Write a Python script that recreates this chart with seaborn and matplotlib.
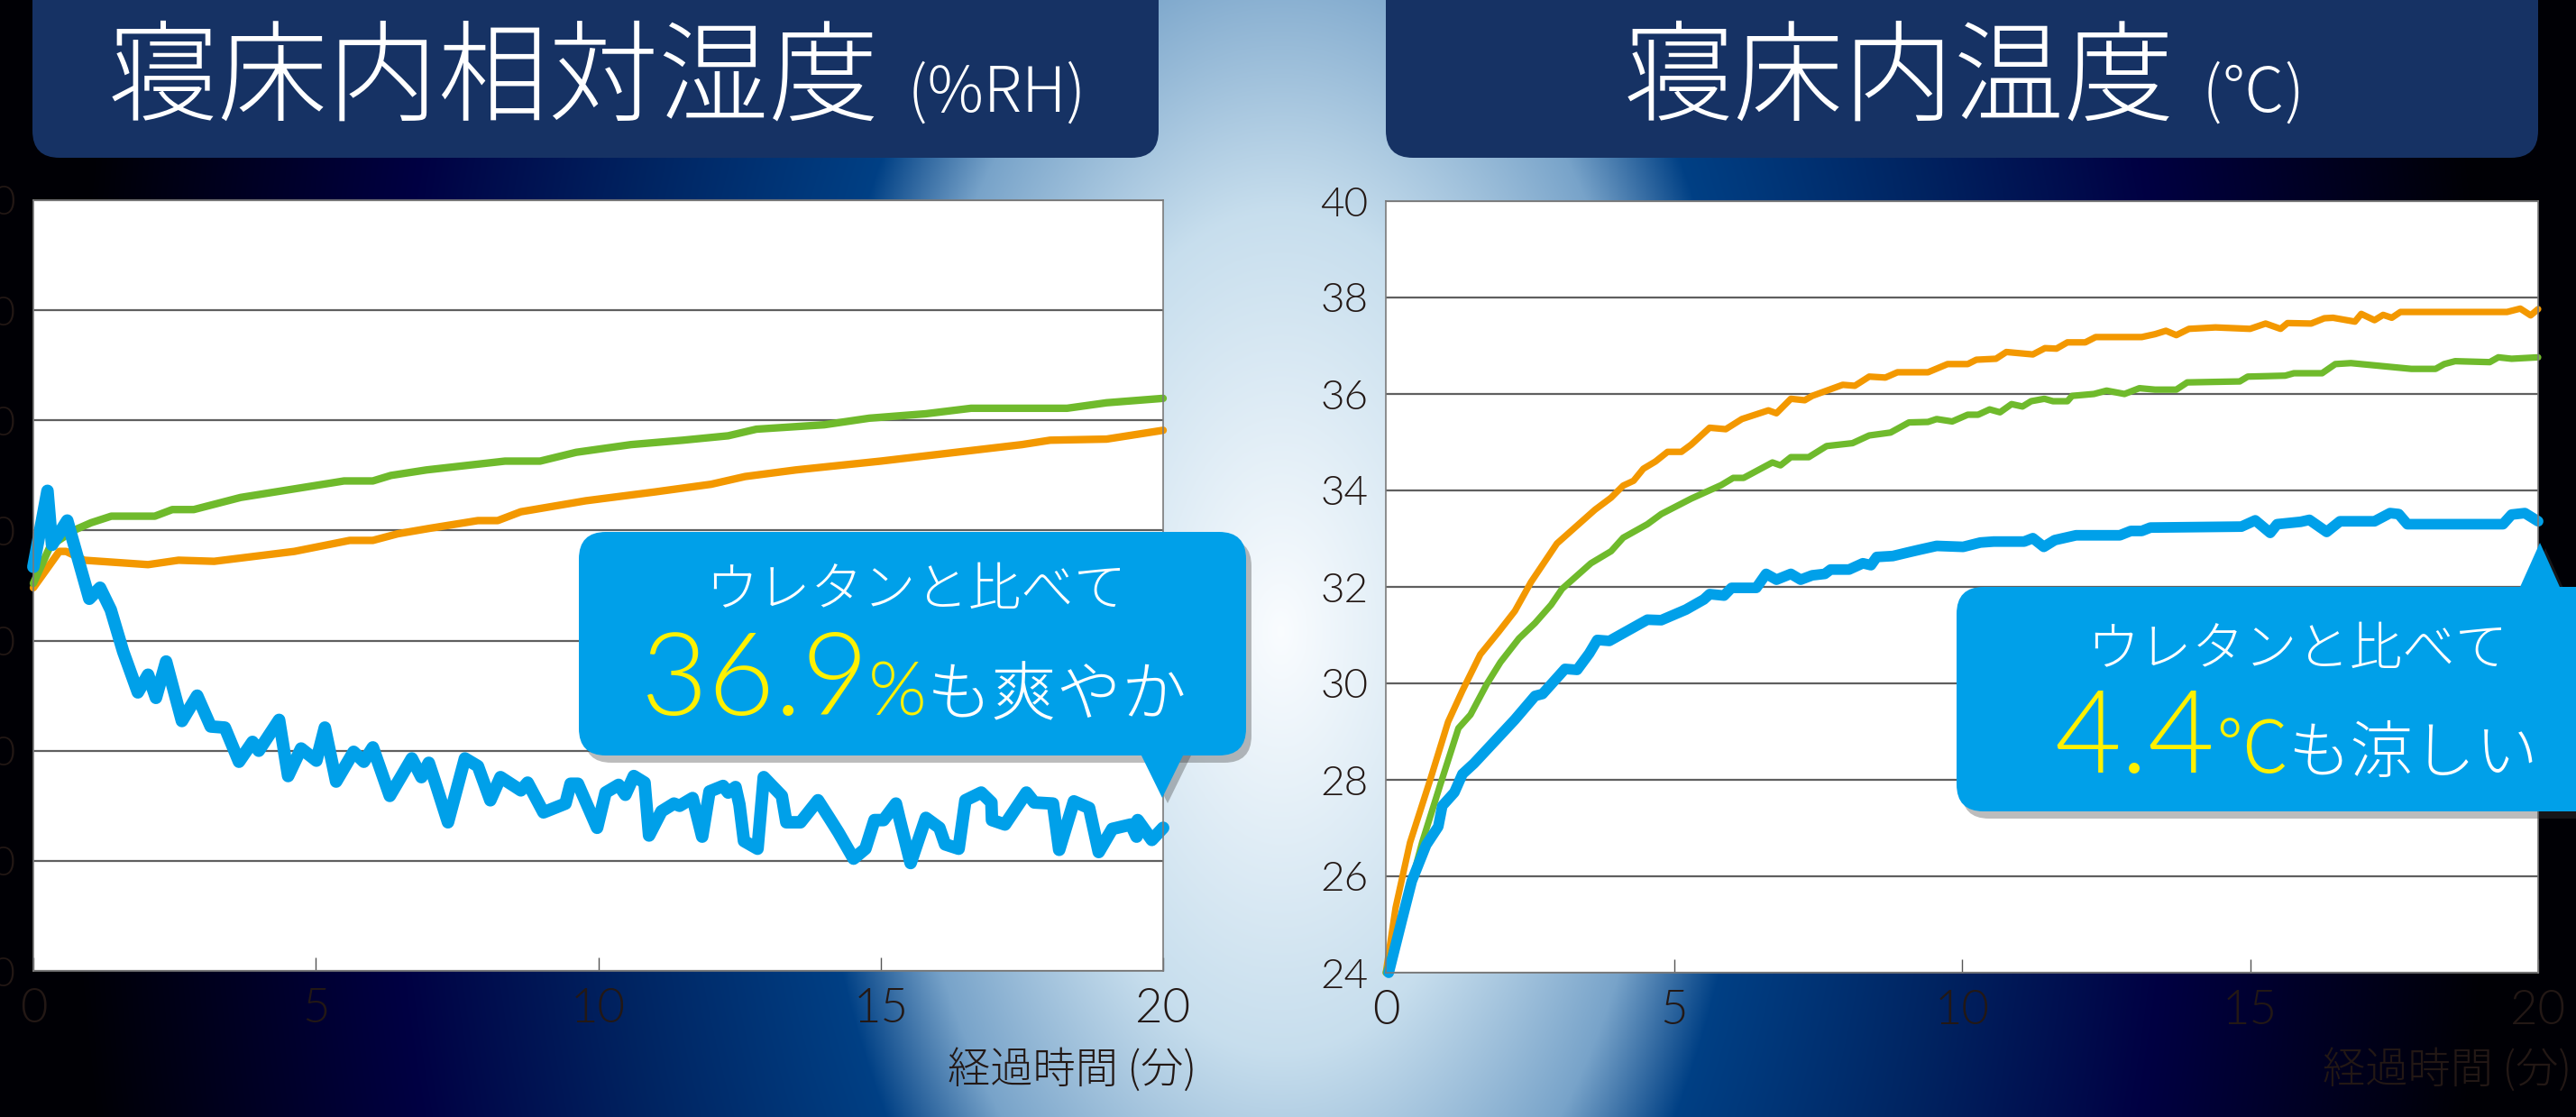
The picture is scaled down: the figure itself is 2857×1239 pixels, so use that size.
import numpy as np
import matplotlib
matplotlib.use("Agg")
import matplotlib.pyplot as plt
from matplotlib.patches import FancyBboxPatch, Polygon
import seaborn as sns

# ---- data: relative humidity in bed (%RH) vs elapsed minutes ----
rh_blue_t = [0.0, 0.25, 0.33, 0.6, 0.99, 1.18, 1.37, 1.59, 1.85, 2.03, 2.17, 2.35, 2.63, 2.9,
             3.14, 3.39, 3.64, 3.88, 3.99, 4.35, 4.51, 4.74, 5.01, 5.16, 5.36, 5.67, 5.85,
             6.01, 6.31, 6.7, 6.87, 7.0, 7.11, 7.34, 7.64, 7.87, 8.09, 8.27, 8.63, 8.75,
             9.03, 9.42, 9.51, 9.64, 9.98, 10.13, 10.36, 10.48, 10.63, 10.82, 10.9, 11.12,
             11.34, 11.44, 11.67, 11.84, 11.97, 12.21, 12.3, 12.43, 12.5, 12.58, 12.82,
             12.93, 13.25, 13.33, 13.58, 13.89, 14.09, 14.25, 14.52, 14.73, 14.89, 15.05,
             15.27, 15.33, 15.53, 15.8, 16.04, 16.14, 16.38, 16.5, 16.78, 16.96, 16.97,
             17.2, 17.58, 17.72, 18.05, 18.16, 18.42, 18.69, 18.86, 19.1, 19.43, 19.53,
             19.55, 19.8, 20.0]
rh_blue = [66.7, 73.6, 68.7, 70.9, 63.8, 64.8, 62.8, 59.0, 55.3, 56.9, 54.8, 58.1, 52.7, 55.0,
           52.2, 52.1, 49.0, 50.8, 50.0, 52.8, 47.7, 50.2, 49.1, 52.1, 47.2, 49.9, 49.0,
           50.3, 45.9, 49.3, 47.6, 48.9, 47.2, 43.5, 49.3, 48.6, 45.5, 47.6, 46.4, 47.1,
           44.4, 45.2, 47.0, 47.0, 43.0, 46.2, 46.9, 46.0, 47.7, 47.1, 42.3, 44.5,
           45.2, 45.0, 45.7, 42.2, 46.3, 46.8, 46.2, 46.7, 45.1, 41.8, 41.1,
           47.6, 45.9, 43.5, 43.5, 45.5, 43.9, 42.6, 40.2, 41.1, 43.7, 43.7,
           45.2, 43.9, 39.8, 43.9, 43.0, 41.5, 41.1, 45.5, 46.2, 45.3, 43.7,
           43.3, 46.2, 45.3, 45.2, 41.0, 45.4, 44.8, 40.8, 42.9, 43.3, 42.2,
           43.7, 41.9, 43.0]

rh_green_t = [0.0, 0.3, 0.71, 1.02, 1.38, 2.15, 2.46, 2.84, 3.67, 5.5, 6.01, 6.33, 6.96, 8.35,
              8.97, 9.61, 10.58, 11.5, 12.3, 12.8, 14.0, 14.8, 15.8, 16.6, 18.3, 19.0, 20.0]
rh_green = [65.2, 68.6, 70.0, 70.7, 71.3, 71.3, 71.9, 71.9, 73.0, 74.5, 74.5, 75.0, 75.5, 76.3,
            76.3, 77.1, 77.8, 78.2, 78.6, 79.2, 79.6, 80.2, 80.6, 81.1, 81.1, 81.6, 82.0]

rh_orange_t = [0.0, 0.46, 0.58, 0.9, 2.03, 2.57, 3.2, 4.62, 5.6, 6.01, 6.45, 7.02, 7.87, 8.22,
               8.63, 9.78, 11.0, 12.0, 12.6, 13.5, 15.0, 16.5, 17.5, 18.0, 19.0, 20.0]
rh_orange = [64.8, 68.1, 68.1, 67.3, 66.9, 67.3, 67.2, 68.1, 69.1, 69.1, 69.7, 70.2, 70.9, 70.9,
             71.7, 72.7, 73.5, 74.2, 74.9, 75.5, 76.3, 77.2, 77.8, 78.2, 78.3, 79.1]

# ---- data: temperature in bed (deg C) vs elapsed minutes ----
tp_orange_t = [0.0, 0.17, 0.42, 0.77, 1.08, 1.33, 1.64, 1.96, 2.24, 2.52, 2.97, 3.63, 3.91, 4.12,
               4.3, 4.47, 4.68, 4.89, 5.13, 5.3, 5.62, 5.9, 6.18, 6.64, 6.78, 7.03, 7.27, 7.4,
               7.93, 8.14, 8.39, 8.67, 8.88, 9.41, 9.75, 10.1, 10.25, 10.59, 10.77, 11.23,
               11.44, 11.64, 11.83, 12.14, 12.32, 13.12, 13.35, 13.54, 13.72, 13.94, 14.4,
               15.0, 15.27, 15.53, 15.65, 16.06, 16.29, 16.44, 16.82, 16.93, 17.16, 17.31,
               17.46, 17.61, 19.46, 19.69, 19.87, 20.0]
tp_orange = [24.0, 25.35, 26.7, 28.0, 29.2, 29.85, 30.6, 31.07, 31.5, 32.1, 32.9, 33.6, 33.85, 34.1,
             34.2, 34.45, 34.6, 34.8, 34.8, 34.95, 35.3, 35.27, 35.48, 35.66, 35.6, 35.9, 35.87, 35.96,
             36.19, 36.17, 36.36, 36.34, 36.45, 36.45, 36.62, 36.62, 36.71, 36.73, 36.87, 36.82,
             36.95, 36.94, 37.07, 37.07, 37.18, 37.18, 37.24, 37.31, 37.22, 37.35, 37.38,
             37.35, 37.46, 37.35, 37.47, 37.46, 37.57, 37.58, 37.5, 37.66, 37.53, 37.64,
             37.58, 37.7, 37.7, 37.77, 37.63, 37.76]

tp_green_t = [0.0, 0.28, 0.63, 0.94, 1.26, 1.47, 1.75, 1.99, 2.31, 2.59, 2.87, 3.06, 3.56, 3.91,
              4.12, 4.54, 4.78, 5.3, 5.82, 6.03, 6.21, 6.71, 6.85, 7.03, 7.34, 7.65, 8.1, 8.39,
              8.76, 9.08, 9.41, 9.56, 9.83, 10.1, 10.28, 10.48, 10.66, 10.86, 11.05, 11.2,
              11.43, 11.58, 11.83, 11.91, 12.29, 12.51, 12.82, 13.08, 13.35, 13.72, 13.91,
              14.82, 14.96, 15.3, 15.61, 15.76, 16.25, 16.48, 16.75, 17.8, 18.22, 18.37,
              18.56, 19.16, 19.31, 19.54, 20.0]
tp_green = [24.0, 25.14, 26.7, 27.88, 29.07, 29.35, 29.98, 30.44, 30.93, 31.25, 31.63, 31.96, 32.49, 32.74,
            33.02, 33.3, 33.51, 33.83, 34.11, 34.26, 34.26, 34.58, 34.52, 34.69, 34.69, 34.92, 34.98, 35.14,
            35.2, 35.41, 35.42, 35.48, 35.43, 35.57, 35.57, 35.68, 35.62, 35.79, 35.74, 35.85,
            35.9, 35.85, 35.85, 35.96, 36.0, 36.07, 36.0, 36.12, 36.09, 36.09, 36.24,
            36.26, 36.36, 36.37, 36.38, 36.43, 36.43, 36.62, 36.64, 36.52, 36.52, 36.62,
            36.68, 36.66, 36.76, 36.73, 36.76]

tp_blue_t = [0.05, 0.28, 0.45, 0.7, 0.91, 0.98, 1.19, 1.33, 1.53, 1.85, 2.24, 2.59, 2.72, 3.11,
             3.32, 3.53, 3.67, 3.88, 4.54, 4.78, 5.21, 5.52, 5.62, 5.87, 6.0, 6.43, 6.6, 6.78,
             7.03, 7.2, 7.4, 7.62, 7.72, 8.04, 8.28, 8.42, 8.52, 8.8, 9.08, 9.26, 9.56, 10.02,
             10.32, 10.55, 11.08, 11.23, 11.42, 11.61, 11.98, 12.74, 12.93, 13.12, 13.27,
             14.85, 15.09, 15.35, 15.47, 15.88, 16.03, 16.33, 16.56, 17.16, 17.43, 17.58,
             17.73, 19.39, 19.54, 19.77, 20.0]
tp_blue = [24.0, 25.1, 25.9, 26.65, 27.03, 27.46, 27.74, 28.12, 28.34, 28.75, 29.25, 29.74, 29.78, 30.3,
           30.28, 30.62, 30.9, 30.88, 31.32, 31.31, 31.53, 31.74, 31.85, 31.82, 31.98, 31.98, 32.27, 32.15,
           32.27, 32.15, 32.24, 32.27, 32.36, 32.36, 32.49, 32.45, 32.62, 32.64, 32.72, 32.77, 32.85, 32.83,
           32.92, 32.94, 32.94, 33.01, 32.83, 32.97, 33.07, 33.07, 33.16, 33.16, 33.23,
           33.25, 33.38, 33.12, 33.3, 33.35, 33.39, 33.14, 33.36, 33.36, 33.53, 33.51,
           33.3, 33.3, 33.5, 33.53, 33.36]

x_ticks = [0, 5, 10, 15, 20]
rh_ticks = [30, 40, 50, 60, 70, 80, 90, 100]
tp_ticks = [24, 26, 28, 30, 32, 34, 36, 38, 40]

ORANGE = "#f39800"
GREEN = "#6fba2c"
BLUE = "#00a0e9"
YELLOW = "#fff100"
NAVY = "#163264"
INK = "#231815"

# light latin face for numbers, CJK face for the rest
NUM_FONT = ["Lato", "Noto Sans CJK JP", "DejaVu Sans"]
CJK = ["Noto Sans CJK JP", "DejaVu Sans"]
NUM_WEIGHT = 300

W, H, DPI = 2857, 1239, 100

sns.set_theme(style="white")
plt.rcParams["font.family"] = CJK

fig = plt.figure(figsize=(W / DPI, H / DPI), dpi=DPI)


# background: dark edges with a light radial glow between the two charts
def background():
    yy, xx = np.mgrid[0:H, 0:W]
    r = np.hypot(xx - 1420.0, (yy - 700.0) / 1.8)
    stops = [0, 260, 430, 530, 760, 1000, 1350]
    cols = np.array([[0.98, 0.99, 1.00],
                     [0.78, 0.87, 0.93],
                     [0.47, 0.64, 0.79],
                     [0.00, 0.25, 0.52],
                     [0.00, 0.14, 0.38],
                     [0.00, 0.00, 0.26],
                     [0.00, 0.00, 0.02]])
    return np.stack([np.interp(r, stops, cols[:, i]) for i in range(3)], axis=-1)


bg = fig.add_axes([0, 0, 1, 1], zorder=-10)
bg.imshow(background(), aspect="auto", extent=(0, W, H, 0), interpolation="bilinear")
bg.set_axis_off()


def px_axes(x0, y0, x1, y1):
    return fig.add_axes([x0 / W, 1 - y1 / H, (x1 - x0) / W, (y1 - y0) / H])


def style_axes(ax, ylim, yticks):
    ax.set_facecolor("white")
    ax.set_xlim(0, 20)
    ax.set_ylim(*ylim)
    ax.set_xticks(x_ticks)
    ax.set_yticks(yticks)
    ax.yaxis.grid(True, color="#5f5f5f", linewidth=1.6)
    ax.xaxis.grid(False)
    ax.set_axisbelow(True)
    ax.tick_params(axis="x", direction="in", length=11, width=1.0, color="#555555",
                   pad=14, labelsize=38, labelcolor=INK, bottom=True)
    ax.tick_params(axis="y", length=0, pad=14, labelsize=33, labelcolor=INK)
    for lab in ax.get_xticklabels() + ax.get_yticklabels():
        lab.set_family(NUM_FONT)
        lab.set_fontweight(NUM_WEIGHT)
    for s in ax.spines.values():
        s.set_visible(True)
        s.set_color("#7a7a7a")
        s.set_linewidth(1.2)
    ax.set_xlabel("")
    ax.set_ylabel("")


def draw_line(ax, t, v, color, lw):
    sns.lineplot(x=t, y=v, ax=ax, color=color, linewidth=lw, estimator=None, sort=False,
                 solid_capstyle="round", solid_joinstyle="round", clip_on=False)


# left chart: humidity
ax1 = px_axes(37, 222, 1290, 1077)
draw_line(ax1, rh_orange_t, rh_orange, ORANGE, 6.0)
draw_line(ax1, rh_green_t, rh_green, GREEN, 6.0)
draw_line(ax1, rh_blue_t, rh_blue, BLUE, 10.0)
style_axes(ax1, (30, 100), rh_ticks)

# right chart: temperature
ax2 = px_axes(1537, 223, 2815, 1079)
draw_line(ax2, tp_orange_t, tp_orange, ORANGE, 5.2)
draw_line(ax2, tp_green_t, tp_green, GREEN, 5.2)
draw_line(ax2, tp_blue_t, tp_blue, BLUE, 8.5)
style_axes(ax2, (24, 40), tp_ticks)

# overlay in pixel coordinates for title boxes, callouts and texts
ov = fig.add_axes([0, 0, 1, 1], zorder=5)
ov.set_xlim(0, W)
ov.set_ylim(H, 0)
ov.set_axis_off()

renderer = fig.canvas.get_renderer()


def text_runs(runs, cx, baseline):
    objs = []
    for s, size, col, fam, wt in runs:
        objs.append(ov.text(0, baseline, s, fontsize=size, color=col, va="baseline",
                            ha="left", fontweight=wt, family=fam))
    widths = [t.get_window_extent(renderer).width for t in objs]
    x = cx - sum(widths) / 2
    for t, w in zip(objs, widths):
        t.set_x(x)
        x += w


def rounded(x, y, w, h, color, rad, **kw):
    ov.add_patch(FancyBboxPatch((x, y), w, h, boxstyle=f"round,pad=0,rounding_size={rad}",
                                facecolor=color, edgecolor="none", **kw))


# title boxes
rounded(36, -60, 1249, 235, NAVY, 30)
rounded(1537, -60, 1278, 235, NAVY, 30)
text_runs([("寝床内相対湿度", 88, "white", CJK, "light"),
           ("  (%RH)", 50, "white", CJK, "light")], 662, 124)
text_runs([("寝床内温度", 88, "white", CJK, "light"),
           ("  (℃)", 50, "white", CJK, "light")], 2178, 124)


def callout(x, y, w, h, tri):
    sh = 6
    rounded(x + sh, y + sh + 2, w, h, "#404040", 30, alpha=0.35)
    ov.add_patch(Polygon([(px + sh, py + sh) for px, py in tri], closed=True,
                         facecolor="#404040", edgecolor="none", alpha=0.35))
    rounded(x, y, w, h, BLUE, 30)
    ov.add_patch(Polygon(tri, closed=True, facecolor=BLUE, edgecolor="none"))


callout(642, 590, 740, 248, [(1262, 830), (1316, 830), (1289, 885)])
text_runs([("ウレタンと比べて", 42, "white", CJK, "light")], 1016, 672)
text_runs([("36.9", 92, YELLOW, NUM_FONT, NUM_WEIGHT), ("%", 60, YELLOW, NUM_FONT, NUM_WEIGHT),
           ("も爽やか", 52, "white", CJK, "light")], 1014, 793)

callout(2170, 651, 760, 249, [(2791, 660), (2843, 660), (2817, 602)])
text_runs([("ウレタンと比べて", 42, "white", CJK, "light")], 2548, 738)
text_runs([("4.4", 92, YELLOW, NUM_FONT, NUM_WEIGHT), ("℃", 58, YELLOW, CJK, "light"),
           ("も涼しい", 50, "white", CJK, "light")], 2547, 857)

# axis titles
ov.text(1327, 1187, "経過時間 (分)", fontsize=34, color=INK, ha="right", va="center",
        fontweight="light")
ov.text(2852, 1187, "経過時間 (分)", fontsize=34, color=INK, ha="right", va="center",
        fontweight="light")

fig.savefig("out.png", dpi=DPI)
